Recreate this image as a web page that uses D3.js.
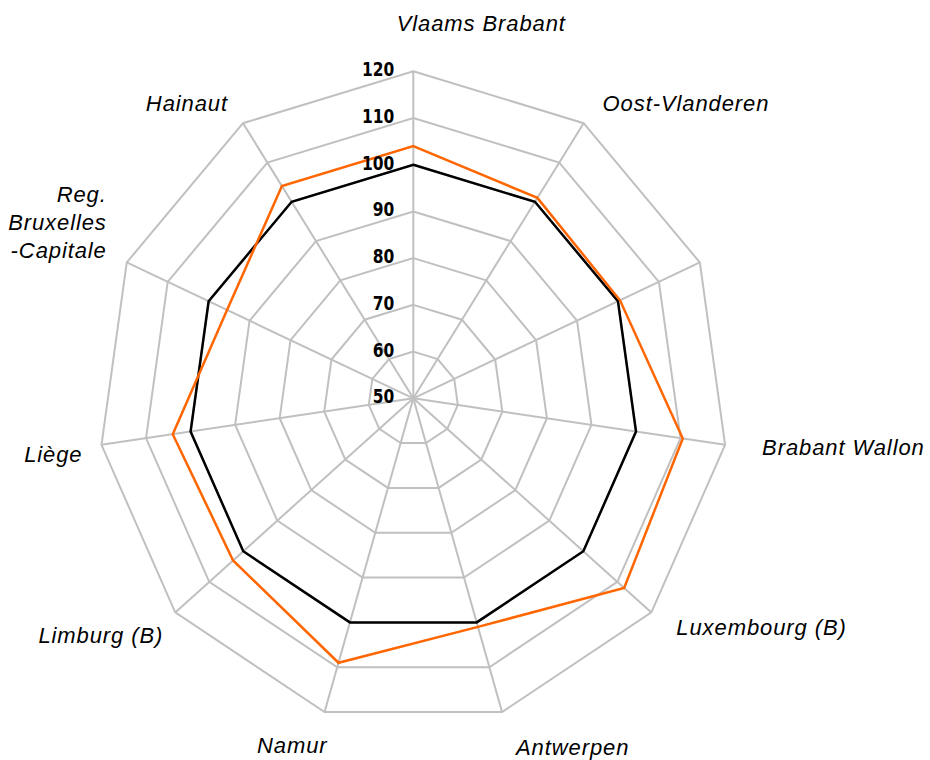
<!DOCTYPE html>
<html>
<head>
<meta charset="utf-8">
<script src="https://cdn.jsdelivr.net/npm/d3@7"></script>
<style>
  body { margin: 0; background: #fff; }
</style>
</head>
<body>
<div id="wrapper"></div>
<script>
// Provinces clockwise from the top. The third spoke has no label in the original.
const provinces = [
  "Vlaams Brabant", "Oost-Vlanderen", "", "Brabant Wallon", "Luxembourg (B)",
  "Antwerpen", "Namur", "Limburg (B)", "Liège", "Reg.\nBruxelles\n-Capitale", "Hainaut",
]
// Reference series (black) and the province index (orange).
const belgiumValues = [100, 100, 100, 100, 100, 100, 100, 100, 100, 100, 100]
const provinceValues = [104, 101, 100.5, 110.5, 112, 101, 109, 103, 104, 95.5, 104]
const ringTicks = [50, 60, 70, 80, 90, 100, 110, 120]

// Layout only: nudge for each category label, from its outer vertex.
const labelNudge = [
  [68, -40], [19, -12], [0, 0], [37, 10], [25, 23],
  [14, 43], [3, 41], [-12, 31], [-19, 17], [-20, -60], [-15, -12],
]

const dimensions = {
  width: 930,
  height: 760,
  centerX: 413.3,
  centerY: 398.3,
  radiusX: 315,
  radiusY: 327,
}

function drawRadar() {
  const wrapper = d3.select("#wrapper")
    .append("svg")
      .attr("width", dimensions.width)
      .attr("height", dimensions.height)

  const bounds = wrapper.append("g")
    .attr("transform", `translate(${dimensions.centerX},${dimensions.centerY})`)

  // The plot is a little wider than tall, so x and y get their own radius scale.
  const rScaleX = d3.scaleLinear()
    .domain([50, 120])
    .range([0, dimensions.radiusX])
  const rScaleY = d3.scaleLinear()
    .domain([50, 120])
    .range([0, dimensions.radiusY])

  const angleScale = d3.scaleLinear()
    .domain([0, provinces.length])
    .range([0, 2 * Math.PI])

  const pointAt = (i, v) => [
    rScaleX(v) * Math.sin(angleScale(i)),
    -rScaleY(v) * Math.cos(angleScale(i)),
  ]

  const closedLine = d3.line().curve(d3.curveLinearClosed)

  // Grid rings
  bounds.append("g")
    .selectAll("path")
    .data(ringTicks.slice(1))
    .join("path")
      .attr("d", t => closedLine(provinces.map((p, i) => pointAt(i, t))))
      .attr("fill", "none")
      .attr("stroke", "#c0c0c0")
      .attr("stroke-width", 2)

  // Spokes
  bounds.append("g")
    .selectAll("line")
    .data(provinces)
    .join("line")
      .attr("x1", 0)
      .attr("y1", 0)
      .attr("x2", (d, i) => pointAt(i, 120)[0])
      .attr("y2", (d, i) => pointAt(i, 120)[1])
      .attr("stroke", "#c0c0c0")
      .attr("stroke-width", 2)

  // Series
  const series = [
    { values: belgiumValues, color: "#000000" },
    { values: provinceValues, color: "#ff6600" },
  ]
  bounds.append("g")
    .selectAll("path")
    .data(series)
    .join("path")
      .attr("d", s => closedLine(s.values.map((v, i) => pointAt(i, v))))
      .attr("fill", "none")
      .attr("stroke", s => s.color)
      .attr("stroke-width", 2.5)
      .attr("stroke-linejoin", "miter")

  // Ring tick labels along the top spoke (narrow bold, squeezed a bit)
  bounds.append("g")
    .selectAll("text")
    .data(ringTicks)
    .join("text")
      .attr("transform", t => `translate(-19,${-rScaleY(t) + 5}) scale(0.86,1)`)
      .attr("text-anchor", "end")
      .style("font-family", "'Liberation Sans Narrow', 'DejaVu Sans Condensed', sans-serif")
      .style("font-weight", "bold")
      .style("font-size", "20px")
      .attr("fill", "#000")
      .text(t => t)

  // Category labels
  const labels = bounds.append("g")
    .selectAll("text")
    .data(provinces)
    .join("text")
      .attr("x", (d, i) => pointAt(i, 120)[0] + labelNudge[i][0])
      .attr("y", (d, i) => pointAt(i, 120)[1] + labelNudge[i][1])
      .attr("text-anchor", (d, i) => {
        const s = Math.sin(angleScale(i))
        if (Math.abs(s) < 0.01) return "middle"
        return s > 0 ? "start" : "end"
      })
      .style("font-family", "'Liberation Sans', Arial, sans-serif")
      .style("font-style", "italic")
      .style("font-size", "22px")
      .style("letter-spacing", "0.9px")
      .attr("fill", "#000")

  labels.each(function(d) {
    const el = d3.select(this)
    const x = el.attr("x")
    d.split("\n").forEach((line, j) => {
      el.append("tspan")
        .attr("x", x)
        .attr("dy", j === 0 ? 0 : 28)
        .text(line)
    })
  })
}

drawRadar()
</script>
</body>
</html>
